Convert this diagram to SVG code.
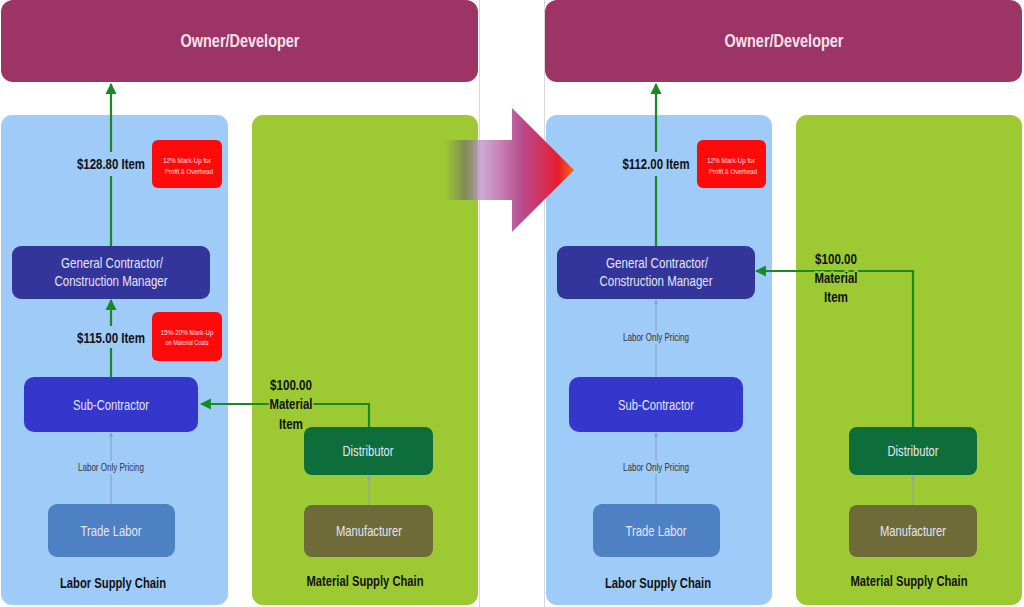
<svg xmlns="http://www.w3.org/2000/svg" width="1024" height="607" viewBox="0 0 1024 607">
<style>
text{font-family:"Liberation Sans",Arial,sans-serif;text-anchor:middle}
.owner{fill:#9c3565}
.owt{fill:#f3e0ea;font-size:18px;font-weight:bold}
.blue{fill:#9fcbf9}
.green{fill:#9dca33}
.gc{fill:#34359b}
.sub{fill:#3436cc}
.tl{fill:#4e80c4}
.dist{fill:#0d6e3b}
.man{fill:#6f6b39}
.red{fill:#ff0a0a}
.bt{fill:#e4e6f7;font-size:15px}
.rt{fill:#fde0e0;font-size:8px}
.price{fill:#111;font-size:15px;font-weight:bold}
.chain{fill:#111;font-size:15px;font-weight:bold}
.lop{fill:#333;font-size:10px}
.gline{fill:none;stroke:#178a22;stroke-width:2.2}
.tline{fill:none;stroke:#8a9cba;stroke-width:1}
.halo-g{stroke:#9dca33;stroke-width:4;paint-order:stroke;stroke-linejoin:round}
.divider{stroke:#d8d8d8;stroke-width:1}
</style>
<defs>
<marker id="ag" viewBox="0 0 10 10" refX="9" refY="5" markerWidth="5" markerHeight="6" markerUnits="strokeWidth" orient="auto"><path d="M0,0 L10,5 L0,10 z" fill="#178a22"/></marker>
<marker id="at" viewBox="0 0 10 10" refX="9" refY="5" markerWidth="5" markerHeight="4" markerUnits="strokeWidth" orient="auto"><path d="M0,0 L10,5 L0,10 z" fill="#8a9cba"/></marker>
<linearGradient id="bigarrow" x1="445" y1="0" x2="574" y2="0" gradientUnits="userSpaceOnUse">
<stop offset="0" stop-color="#6a5a70" stop-opacity="0"/>
<stop offset="0.15" stop-color="#6a5a70" stop-opacity="0.55"/>
<stop offset="0.28" stop-color="#c9a2cf" stop-opacity="0.9"/>
<stop offset="0.6" stop-color="#b84a8e"/>
<stop offset="0.88" stop-color="#e81c30"/>
<stop offset="1" stop-color="#ff6a10"/>
</linearGradient>
</defs>
<rect width="1024" height="607" fill="#ffffff"/>
<line class="divider" x1="479.5" y1="0" x2="479.5" y2="607"/>
<line class="divider" x1="544.5" y1="0" x2="544.5" y2="607"/>

<!-- panels -->
<g id="left-labor-panel"><rect class="blue" x="1" y="115" width="227" height="490" rx="11"/><text class="chain" x="113" y="588" textLength="106" lengthAdjust="spacingAndGlyphs">Labor Supply Chain</text></g>
<g id="left-material-panel"><rect class="green" x="252" y="115" width="226" height="490" rx="11"/><text class="chain" x="365" y="586" textLength="117" lengthAdjust="spacingAndGlyphs">Material Supply Chain</text></g>
<g id="right-labor-panel"><rect class="blue" x="546" y="115" width="226" height="490" rx="11"/><text class="chain" x="658" y="588" textLength="106" lengthAdjust="spacingAndGlyphs">Labor Supply Chain</text></g>
<g id="right-material-panel"><rect class="green" x="796" y="115" width="226" height="490" rx="11"/><text class="chain" x="909" y="586" textLength="117" lengthAdjust="spacingAndGlyphs">Material Supply Chain</text></g>

<!-- transition arrow -->
<g id="transition-arrow"><path d="M445,140 L512,140 L512,108 L574,170 L512,232 L512,200 L445,200 z" fill="url(#bigarrow)"/></g>

<!-- connectors -->
<g id="connectors">
<path class="gline" d="M111,246 V84" marker-end="url(#ag)"/>
<path class="gline" d="M111,377 V300" marker-end="url(#ag)"/>
<path class="gline" d="M369,427 V404 H201" marker-end="url(#ag)"/>
<path class="tline" d="M111,504 V433" marker-end="url(#at)"/>
<path class="tline" d="M369,505 V476" marker-end="url(#at)"/>
<path class="gline" d="M656,246 V84" marker-end="url(#ag)"/>
<path class="gline" d="M913,427 V271 H756" marker-end="url(#ag)"/>
<path class="tline" d="M656,377 V300" marker-end="url(#at)"/>
<path class="tline" d="M656,504 V433" marker-end="url(#at)"/>
<path class="tline" d="M913,505 V476" marker-end="url(#at)"/>
</g>

<!-- connector labels -->
<g id="labels">
<rect class="blue" x="74" y="152" width="74" height="24"/>
<text class="price" x="111" y="169" textLength="68" lengthAdjust="spacingAndGlyphs">$128.80 Item</text>
<rect class="blue" x="74" y="326" width="74" height="22"/>
<text class="price" x="111" y="343" textLength="68" lengthAdjust="spacingAndGlyphs">$115.00 Item</text>
<rect class="blue" x="76" y="461" width="70" height="13"/>
<text class="lop" x="111" y="471" textLength="66" lengthAdjust="spacingAndGlyphs">Labor Only Pricing</text>
<text class="price halo-g" x="291" y="390" textLength="42" lengthAdjust="spacingAndGlyphs">$100.00</text>
<text class="price halo-g" x="291" y="409" textLength="43" lengthAdjust="spacingAndGlyphs">Material</text>
<text class="price halo-g" x="291" y="429" textLength="24" lengthAdjust="spacingAndGlyphs">Item</text>
<rect class="blue" x="619" y="152" width="74" height="24"/>
<text class="price" x="656" y="169" textLength="67" lengthAdjust="spacingAndGlyphs">$112.00 Item</text>
<rect class="blue" x="621" y="331" width="70" height="13"/>
<text class="lop" x="656" y="341" textLength="66" lengthAdjust="spacingAndGlyphs">Labor Only Pricing</text>
<rect class="blue" x="621" y="461" width="70" height="13"/>
<text class="lop" x="656" y="471" textLength="66" lengthAdjust="spacingAndGlyphs">Labor Only Pricing</text>
<text class="price halo-g" x="836" y="264" textLength="42" lengthAdjust="spacingAndGlyphs">$100.00</text>
<text class="price halo-g" x="836" y="283" textLength="43" lengthAdjust="spacingAndGlyphs">Material</text>
<text class="price halo-g" x="836" y="302" textLength="24" lengthAdjust="spacingAndGlyphs">Item</text>
</g>

<!-- nodes left -->
<g id="owner-left"><rect class="owner" x="1" y="0" width="477" height="82" rx="12"/><text class="owt" x="240" y="47" textLength="119" lengthAdjust="spacingAndGlyphs">Owner/Developer</text></g>
<g id="markup-left-1"><rect class="red" x="152" y="140" width="70" height="48" rx="6"/><text class="rt" x="187" y="163" textLength="48" lengthAdjust="spacingAndGlyphs">12% Mark-Up for</text><text class="rt" x="189" y="174" textLength="48" lengthAdjust="spacingAndGlyphs">Profit &amp; Overhead</text></g>
<g id="gc-left"><rect class="gc" x="12" y="246" width="198" height="53" rx="9"/><text class="bt" x="112" y="268" textLength="102" lengthAdjust="spacingAndGlyphs">General Contractor/</text><text class="bt" x="111" y="286" textLength="113" lengthAdjust="spacingAndGlyphs">Construction Manager</text></g>
<g id="markup-left-2"><rect class="red" x="152" y="312" width="70" height="49" rx="6"/><text class="rt" x="187" y="335" textLength="53" lengthAdjust="spacingAndGlyphs">15%-20% Mark-Up</text><text class="rt" x="187" y="345" textLength="43" lengthAdjust="spacingAndGlyphs">on Material Costs</text></g>
<g id="sub-left"><rect class="sub" x="24" y="377" width="174" height="55" rx="10"/><text class="bt" x="111" y="410" textLength="76" lengthAdjust="spacingAndGlyphs">Sub-Contractor</text></g>
<g id="trade-left"><rect class="tl" x="48" y="504" width="127" height="53" rx="9"/><text class="bt" x="111" y="536" textLength="61" lengthAdjust="spacingAndGlyphs">Trade Labor</text></g>
<g id="dist-left"><rect class="dist" x="304" y="427" width="129" height="48" rx="8"/><text class="bt" x="368" y="456" textLength="51" lengthAdjust="spacingAndGlyphs">Distributor</text></g>
<g id="man-left"><rect class="man" x="304" y="505" width="129" height="52" rx="8"/><text class="bt" x="369" y="536" textLength="66" lengthAdjust="spacingAndGlyphs">Manufacturer</text></g>

<!-- nodes right -->
<g id="owner-right"><rect class="owner" x="545" y="0" width="477" height="82" rx="12"/><text class="owt" x="784" y="47" textLength="119" lengthAdjust="spacingAndGlyphs">Owner/Developer</text></g>
<g id="markup-right"><rect class="red" x="697" y="140" width="69" height="48" rx="6"/><text class="rt" x="731" y="163" textLength="48" lengthAdjust="spacingAndGlyphs">12% Mark-Up for</text><text class="rt" x="733" y="174" textLength="48" lengthAdjust="spacingAndGlyphs">Profit &amp; Overhead</text></g>
<g id="gc-right"><rect class="gc" x="557" y="246" width="198" height="53" rx="9"/><text class="bt" x="657" y="268" textLength="102" lengthAdjust="spacingAndGlyphs">General Contractor/</text><text class="bt" x="656" y="286" textLength="113" lengthAdjust="spacingAndGlyphs">Construction Manager</text></g>
<g id="sub-right"><rect class="sub" x="569" y="377" width="174" height="55" rx="10"/><text class="bt" x="656" y="410" textLength="76" lengthAdjust="spacingAndGlyphs">Sub-Contractor</text></g>
<g id="trade-right"><rect class="tl" x="593" y="504" width="127" height="53" rx="9"/><text class="bt" x="656" y="536" textLength="61" lengthAdjust="spacingAndGlyphs">Trade Labor</text></g>
<g id="dist-right"><rect class="dist" x="849" y="427" width="128" height="48" rx="8"/><text class="bt" x="913" y="456" textLength="51" lengthAdjust="spacingAndGlyphs">Distributor</text></g>
<g id="man-right"><rect class="man" x="849" y="505" width="128" height="52" rx="8"/><text class="bt" x="913" y="536" textLength="66" lengthAdjust="spacingAndGlyphs">Manufacturer</text></g>
</svg>
